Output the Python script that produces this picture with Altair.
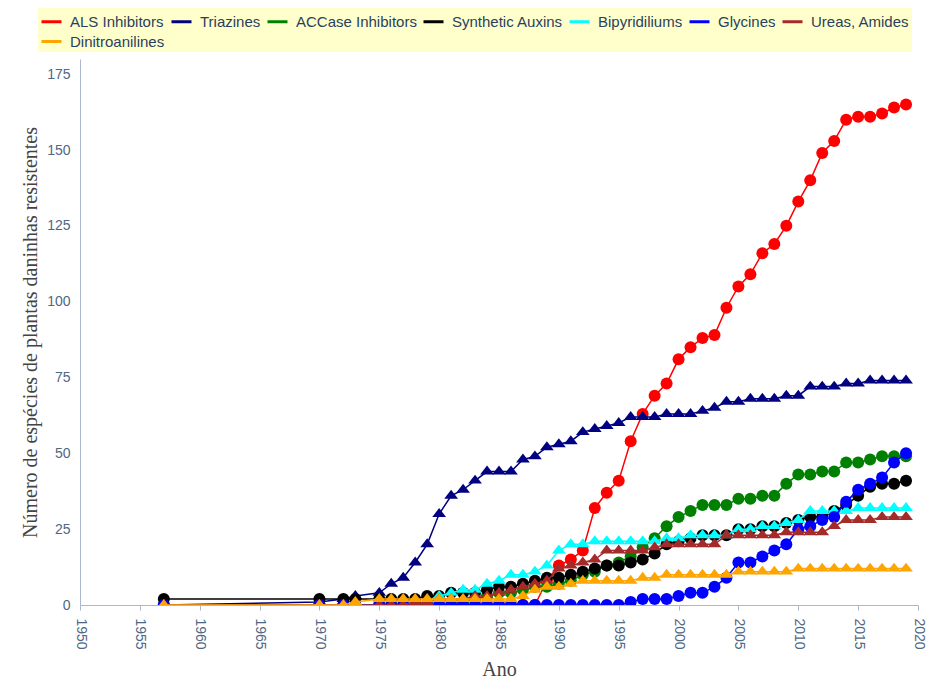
import altair as alt
import pandas as pd

years = [1957, 1970, 1972, 1973,
         1975, 1976, 1977, 1978, 1979, 1980, 1981, 1982, 1983, 1984,
         1985, 1986, 1987, 1988, 1989, 1990, 1991, 1992, 1993, 1994,
         1995, 1996, 1997, 1998, 1999, 2000, 2001, 2002, 2003, 2004,
         2005, 2006, 2007, 2008, 2009, 2010, 2011, 2012, 2013, 2014,
         2015, 2016, 2017, 2018, 2019]

als = [0, 0, 0, 0,
       0, 0, 0, 0, 0, 0, 0, 0, 0, 0,
       0, 0, 0, 0, 8, 13, 15, 18, 32, 37,
       41, 54, 63, 69, 73, 81, 85, 88, 89, 98,
       105, 109, 116, 119, 125, 133, 140, 149, 153, 160,
       161, 161, 162, 164, 165]
triazines = [0, 1, 2, 3,
             4, 7, 9, 14, 20, 30, 36, 38, 41, 44,
             44, 44, 48, 49, 52, 53, 54, 57, 58, 59,
             60, 62, 62, 62, 63, 63, 63, 64, 65, 67,
             67, 68, 68, 68, 69, 69, 72, 72, 72, 73,
             73, 74, 74, 74, 74]
accase = [0, 0, 0, 0,
          0, 0, 0, 0, 0, 0, 0, 1, 2, 3,
          4, 4, 5, 6, 6, 7, 8, 10, 11, 13,
          14, 16, 19, 22, 26, 29, 31, 33, 33, 33,
          35, 35, 36, 36, 40, 43, 43, 44, 44, 47,
          47, 48, 49, 49, 49]
auxins = [2, 2, 2, 2,
          2, 2, 2, 2, 3, 3, 4, 4, 4, 5,
          6, 6, 7, 8, 9, 9, 10, 11, 12, 13,
          13, 14, 15, 17, 20, 21, 22, 23, 23, 23,
          25, 25, 26, 26, 27, 28, 29, 29, 31, 33,
          36, 39, 40, 40, 41]
bipyridiliums = [0, 0, 0, 0,
                 0, 0, 0, 0, 0, 3, 4, 5, 5, 7,
                 8, 10, 10, 11, 13, 18, 20, 20, 21, 21,
                 21, 21, 21, 21, 22, 22, 23, 23, 23, 23,
                 25, 25, 26, 26, 27, 28, 31, 31, 31, 31,
                 32, 32, 32, 32, 32]
glycines = [0, 0, 0, 0,
            0, 0, 0, 0, 0, 0, 0, 0, 0, 0,
            0, 0, 0, 0, 0, 0, 0, 0, 0, 0,
            0, 1, 2, 2, 2, 3, 4, 4, 6, 9,
            14, 14, 16, 18, 20, 25, 26, 28, 29, 34,
            38, 40, 42, 47, 50]
ureas = [0, 0, 0, 0,
         0, 0, 0, 1, 1, 2, 2, 2, 3, 3,
         4, 5, 6, 7, 8, 12, 13, 14, 15, 18,
         18, 18, 18, 19, 20, 20, 20, 20, 20, 23,
         23, 23, 23, 23, 24, 24, 24, 24, 26, 28,
         28, 28, 29, 29, 29]
dinitro = [0, 0, 0, 1,
           2, 2, 2, 2, 2, 2, 2, 2, 2, 2,
           2, 2, 3, 5, 6, 6, 7, 8, 8, 8,
           8, 8, 9, 9, 10, 10, 10, 10, 10, 10,
           11, 11, 11, 11, 11, 12, 12, 12, 12, 12,
           12, 12, 12, 12, 12]

series_names = ["ALS Inhibitors", "Triazines", "ACCase Inhibitors", "Synthetic Auxins",
                "Bipyridiliums", "Glycines", "Ureas, Amides", "Dinitroanilines"]
series_values = [als, triazines, accase, auxins, bipyridiliums, glycines, ureas, dinitro]
series_colors = ["#ff0000", "#000080", "#008000", "#000000",
                 "#00ffff", "#0000ff", "#a52a2a", "#ffa500"]
series_marker = ["circle", "tri", "circle", "circle", "tri", "circle", "tri", "tri"]

x_ticks = [1950, 1955, 1960, 1965, 1970, 1975, 1980, 1985, 1990, 1995, 2000, 2005, 2010, 2015, 2020]
y_ticks = [0, 25, 50, 75, 100, 125, 150, 175]

rows = []
for name, vals in zip(series_names, series_values):
    for yr, v in zip(years, vals):
        rows.append({"Ano": yr, "Valor": v, "Serie": name})
df = pd.DataFrame(rows)

TRI = "M-1,0.433L1,0.433L0,-0.866Z"
AXIS_LINE = "#aab7cc"
LABEL_COL = "#506784"
TITLE_COL = "#444444"

x_enc = alt.X("Ano:Q",
              scale=alt.Scale(domain=[1950, 2020], nice=False, zero=False),
              axis=alt.Axis(title="Ano", values=x_ticks, labelAngle=90, format="d",
                            grid=False, domainColor=AXIS_LINE, tickColor=AXIS_LINE,
                            tickSize=5, labelPadding=8, labelColor=LABEL_COL,
                            labelFont="Liberation Sans", labelFontSize=14,
                            titleFont="Liberation Serif", titleFontSize=20,
                            titleFontWeight="normal", titleColor=TITLE_COL,
                            titlePadding=10))
y_enc = alt.Y("Valor:Q",
              scale=alt.Scale(domain=[0, 180], nice=False),
              axis=alt.Axis(title="Número de espécies de plantas daninhas resistentes",
                            values=y_ticks, grid=False, ticks=False,
                            domainColor=AXIS_LINE, labelPadding=10, labelColor=LABEL_COL,
                            labelFont="Liberation Sans", labelFontSize=14,
                            titleFont="Liberation Serif", titleFontSize=20,
                            titleFontWeight="normal", titleColor=TITLE_COL,
                            titlePadding=6))
legend = alt.Legend(title=None, orient="none", legendX=-42, legendY=-51,
                    direction="horizontal", columns=7, symbolType="stroke",
                    symbolSize=400, symbolStrokeWidth=3, labelFont="Liberation Sans",
                    labelFontSize=15, labelColor="#2a3f5f", fillColor="#ffffcc",
                    padding=2, columnPadding=0, rowPadding=-3, labelOffset=7,
                    labelLimit=0)
c_enc = alt.Color("Serie:N", scale=alt.Scale(domain=series_names, range=series_colors),
                  legend=legend)

layers = []
for name, mk in zip(series_names, series_marker):
    shape = "circle" if mk == "circle" else TRI
    size = 144 if mk == "circle" else 190
    layer = alt.Chart(df).transform_filter(
        alt.datum.Serie == name
    ).mark_line(
        strokeWidth=1.5, clip=True,
        point=alt.OverlayMarkDef(shape=shape, size=size, filled=True, opacity=1, clip=True)
    ).encode(x=x_enc, y=y_enc, color=c_enc)
    layers.append(layer)

chart = alt.layer(*layers).properties(
    width=838, height=546,
    padding={"left": 72, "top": 51, "right": 20, "bottom": 80},
    autosize=alt.AutoSizeParams(type="none"),
).configure_view(stroke=None)

chart.save("out.html", embed_options={"renderer": "svg", "actions": False})
